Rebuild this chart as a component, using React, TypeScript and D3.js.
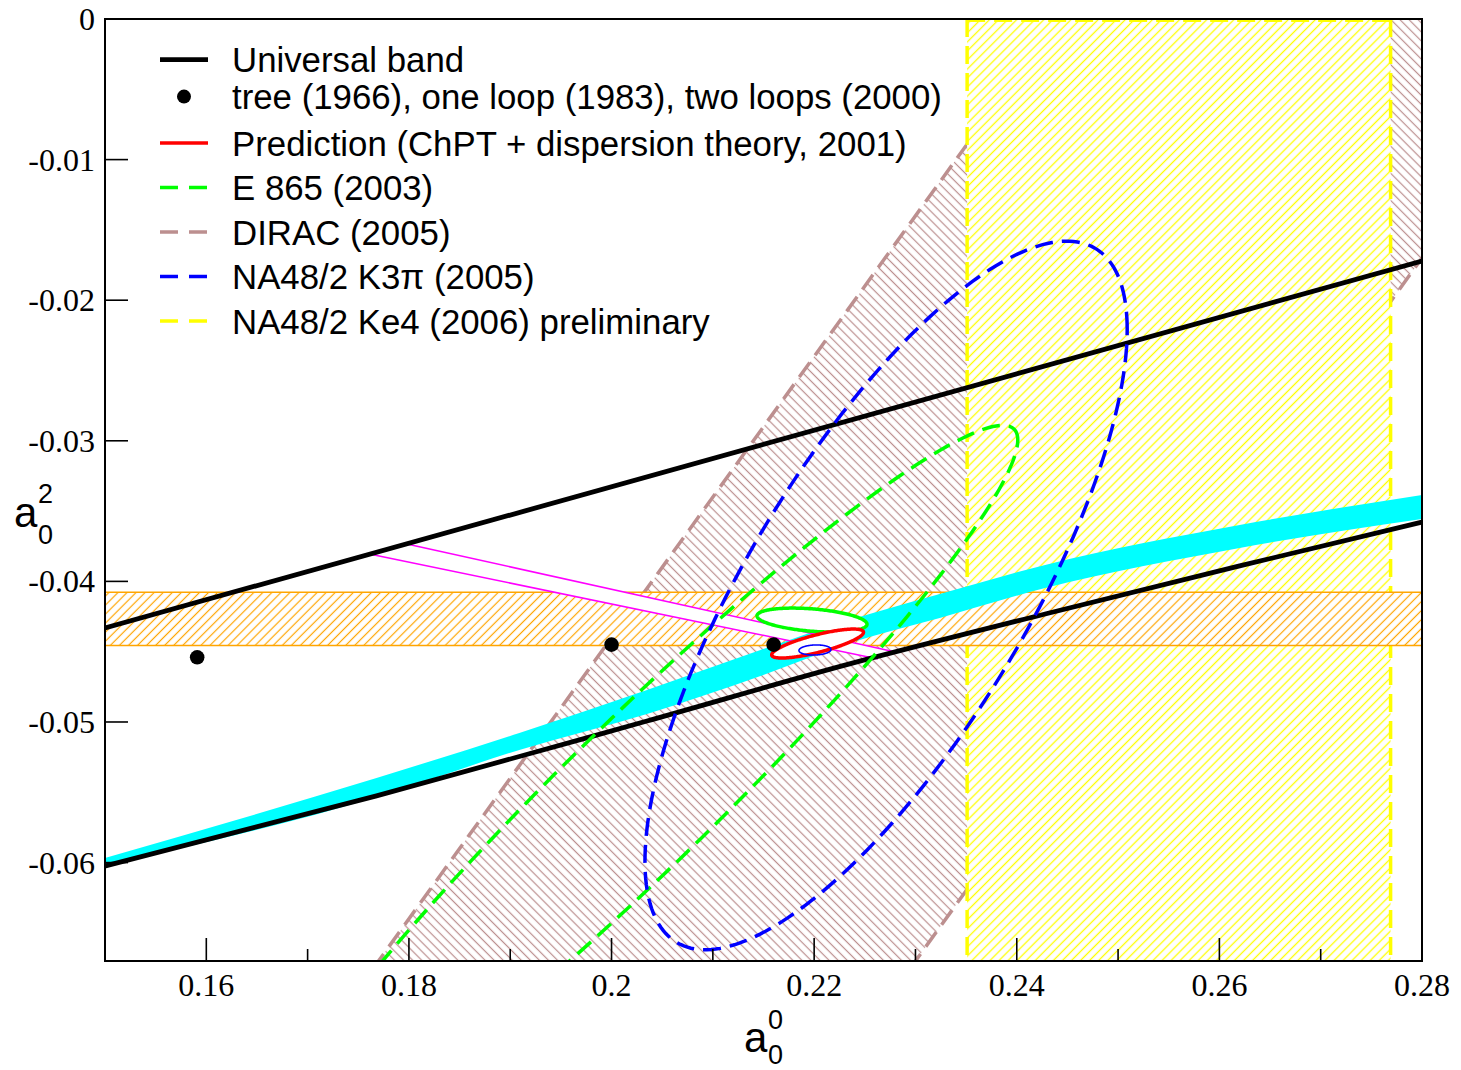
import React from 'react';
import * as d3 from 'd3';

const W = 1461;
const H = 1070;
const PL = 105, PT = 19, PR = 1422, PB = 961;

// axes
const xDomain = [0.15, 0.28];
const yDomain = [-0.067, 0];
const xMajorTicks = [0.16, 0.18, 0.2, 0.22, 0.24, 0.26, 0.28];
const xTickLabels = ['0.16', '0.18', '0.2', '0.22', '0.24', '0.26', '0.28'];
const xMinorTicks = [0.17, 0.19, 0.21, 0.23, 0.25, 0.27];
const yMajorTicks = [0, -0.01, -0.02, -0.03, -0.04, -0.05, -0.06];
const yTickLabels = ['0', '-0.01', '-0.02', '-0.03', '-0.04', '-0.05', '-0.06'];

// Universal band boundaries
const upperA0 = [0.15, 0.28];
const upperA2 = [-0.04331, -0.01721];
const lowerA0 = [0.15, 0.1768, 0.2035, 0.2235, 0.2428, 0.262, 0.28];
const lowerA2 = [-0.06024, -0.05526, -0.04993, -0.04587, -0.04232, -0.0389, -0.03578];

// cyan band
const cyanA0 = [0.15, 0.1768, 0.1909, 0.2035, 0.2147, 0.2235, 0.2324, 0.2428, 0.262, 0.28];
const cyanTop = [-0.05967, -0.05398, -0.05078, -0.04772, -0.04488, -0.04275, -0.0409, -0.03883, -0.03599, -0.03385];
const cyanBottom = [-0.06024, -0.05533, -0.05199, -0.04943, -0.04673, -0.04438, -0.0426, -0.04047, -0.03762, -0.03556];

// tree / one loop / two loops
const dotA0 = [0.1591, 0.2, 0.216];
const dotA2 = [-0.0454, -0.0445, -0.0445];

// DIRAC: a0 - a2 range
const diracRange = [0.244, 0.297];
// Ke4 preliminary: a0 range
const ke4Range = [0.2351, 0.2769];
// orange horizontal band: a2 range
const orangeRange = [-0.04456, -0.04078];

// magenta lines (start/end)
const magStartA0 = [0.1798, 0.1761];
const magStartA2 = [-0.03734, -0.03805];
const magEndA0 = [0.228, 0.2263];
const magEndA2 = [-0.04502, -0.04552];

// ellipses: center a0, center a2, sigma a0, sigma a2, correlation
const ellNames = ['E865', 'K3pi', 'prediction', 'greenSolid', 'blueSmall'];
const ellC0 = [0.203, 0.2271, 0.22034, 0.21979, 0.22008];
const ellC2 = [-0.055, -0.041, -0.04442, -0.04275, -0.04488];
const ellS0 = [0.0371, 0.0238, 0.00453, 0.00543, 0.00158];
const ellS2 = [0.0261, 0.0252, 0.00103, 0.00085, 0.00036];
const ellRho = [0.96, 0.75, 0.78, -0.35, 0.1];

const legendLabels = [
  'Universal band',
  'tree (1966), one loop (1983), two loops (2000)',
  'Prediction (ChPT + dispersion theory, 2001)',
  'E 865 (2003)',
  'DIRAC (2005)',
  'NA48/2 K3\u03c0 (2005)',
  'NA48/2 Ke4 (2006) preliminary',
];

const x = d3.scaleLinear().domain(xDomain).range([PL, PR]);
const y = d3.scaleLinear().domain(yDomain).range([PB, PT]);

function ellipsePath(i: number) {
  const pts: [number, number][] = [];
  const n = 240;
  const r = ellRho[i];
  const q = Math.sqrt(1 - r * r);
  for (let k = 0; k <= n; k++) {
    const t = (k / n) * 2 * Math.PI;
    const a0 = ellC0[i] + ellS0[i] * Math.cos(t);
    const a2 = ellC2[i] + ellS2[i] * (r * Math.cos(t) + q * Math.sin(t));
    pts.push([x(a0), y(a2)]);
  }
  return d3.line()(pts) + 'Z';
}

const lineGen = d3.line<[number, number]>().x((d) => x(d[0])).y((d) => y(d[1])).curve(d3.curveMonotoneX);

export default function App() {
  const upperPath = lineGen(upperA0.map((a, i) => [a, upperA2[i]]));
  const lowerPath = lineGen(lowerA0.map((a, i) => [a, lowerA2[i]]));
  const cyanArea = d3
    .area<number>()
    .x((_, i) => x(cyanA0[i]))
    .y0((_, i) => y(cyanBottom[i]))
    .y1((_, i) => y(cyanTop[i]))
    .curve(d3.curveMonotoneX)(cyanA0);

  // DIRAC polygon (a2 = a0 - c)
  const dLo = diracRange[0], dHi = diracRange[1];
  const a2Lo = -0.08, a2Hi = 0.01;
  const diracPoly: [number, number][] = [
    [a2Lo + dLo, a2Lo],
    [a2Hi + dLo, a2Hi],
    [a2Hi + dHi, a2Hi],
    [a2Lo + dHi, a2Lo],
  ];
  const diracPath = d3.line()(diracPoly.map((p) => [x(p[0]), y(p[1])])) + 'Z';

  const magPoly: [number, number][] = [
    [magStartA0[0], magStartA2[0]],
    [magEndA0[0], magEndA2[0]],
    [magEndA0[1], magEndA2[1]],
    [magStartA0[1], magStartA2[1]],
  ];
  const magPath = d3.line()(magPoly.map((p) => [x(p[0]), y(p[1])])) + 'Z';

  const dash = '18 9';
  const sans = "'Liberation Sans', Arial, Helvetica, sans-serif";
  const serif = "'Liberation Serif', 'Times New Roman', Times, serif";

  const legendBase = [72, 109, 155.5, 200, 244.5, 289, 333.5];

  return (
    <svg width={W} height={H} style={{ position: 'absolute', left: 0, top: 0, background: '#fff' }}>
      <defs>
        <clipPath id="plotClip">
          <rect x={PL} y={PT} width={PR - PL} height={PB - PT} />
        </clipPath>
        <pattern id="hatchDirac" patternUnits="userSpaceOnUse" width={6.4} height={6.4} patternTransform="rotate(-45)">
          <rect width={6.4} height={6.4} fill="#fff" />
          <line x1={3.2} y1={0} x2={3.2} y2={6.4} stroke="#bc8f8f" strokeWidth={1.2} />
        </pattern>
        <pattern id="hatchYellow" patternUnits="userSpaceOnUse" width={6.4} height={6.4} patternTransform="rotate(45)">
          <rect width={6.4} height={6.4} fill="#fff" />
          <line x1={3.2} y1={0} x2={3.2} y2={6.4} stroke="#ffff00" strokeWidth={1.3} />
        </pattern>
        <pattern id="hatchOrange" patternUnits="userSpaceOnUse" width={6.4} height={6.4} patternTransform="rotate(45)">
          <rect width={6.4} height={6.4} fill="#fff" />
          <line x1={3.2} y1={0} x2={3.2} y2={6.4} stroke="#ffa500" strokeWidth={1.2} />
        </pattern>
      </defs>

      <g clipPath="url(#plotClip)">
        {/* DIRAC band */}
        <path d={diracPath} fill="url(#hatchDirac)" />
        <line x1={x(a2Lo + dLo)} y1={y(a2Lo)} x2={x(a2Hi + dLo)} y2={y(a2Hi)} stroke="#bc8f8f" strokeWidth={3.5} strokeDasharray={dash} />
        <line x1={x(a2Lo + dHi)} y1={y(a2Lo)} x2={x(a2Hi + dHi)} y2={y(a2Hi)} stroke="#bc8f8f" strokeWidth={3.5} strokeDasharray={dash} />

        {/* Ke4 vertical band */}
        <rect x={x(ke4Range[0])} y={y(yDomain[1])} width={x(ke4Range[1]) - x(ke4Range[0])} height={y(yDomain[0]) - y(yDomain[1])} fill="url(#hatchYellow)" />
        <line x1={x(ke4Range[0])} y1={PT} x2={x(ke4Range[0])} y2={PB} stroke="#ffff00" strokeWidth={3.5} strokeDasharray={dash} />
        <line x1={x(ke4Range[1])} y1={PT} x2={x(ke4Range[1])} y2={PB} stroke="#ffff00" strokeWidth={3.5} strokeDasharray={dash} />
        <line x1={x(ke4Range[0])} y1={PT + 1.5} x2={x(ke4Range[1])} y2={PT + 1.5} stroke="#ffff00" strokeWidth={3} strokeDasharray={dash} />

        {/* orange horizontal band */}
        <rect x={PL} y={y(orangeRange[1])} width={PR - PL} height={y(orangeRange[0]) - y(orangeRange[1])} fill="url(#hatchOrange)" />
        <line x1={PL} x2={PR} y1={y(orangeRange[1])} y2={y(orangeRange[1])} stroke="#ffa500" strokeWidth={1.5} />
        <line x1={PL} x2={PR} y1={y(orangeRange[0])} y2={y(orangeRange[0])} stroke="#ffa500" strokeWidth={1.5} />

        {/* magenta wedge */}
        <path d={magPath} fill="#fff" />

        {/* cyan band */}
        <path d={cyanArea || ''} fill="#00ffff" />

        {/* magenta lines */}
        {magStartA0.map((a, i) => (
          <line key={i} x1={x(a)} y1={y(magStartA2[i])} x2={x(magEndA0[i])} y2={y(magEndA2[i])} stroke="#ff00ff" strokeWidth={1.6} />
        ))}

        {/* universal band */}
        <path d={upperPath || ''} fill="none" stroke="#000" strokeWidth={4.8} />
        <path d={lowerPath || ''} fill="none" stroke="#000" strokeWidth={4.8} />

        {/* small ellipses */}
        <path d={ellipsePath(3)} fill="#fff" stroke="#00ff00" strokeWidth={3.5} />
        <path d={ellipsePath(2)} fill="#fff" stroke="#ff0000" strokeWidth={3.5} />
        <path d={ellipsePath(4)} fill="none" stroke="#0000ff" strokeWidth={1.6} />

        {/* dashed ellipses */}
        <path d={ellipsePath(0)} fill="none" stroke="#00ff00" strokeWidth={3.5} strokeDasharray={dash} />
        <path d={ellipsePath(1)} fill="none" stroke="#0000ff" strokeWidth={3.5} strokeDasharray={dash} />

        {/* points */}
        {dotA0.map((a, i) => (
          <circle key={i} cx={x(a)} cy={y(dotA2[i])} r={7.3} fill="#000" />
        ))}
      </g>

      {/* frame */}
      <rect x={PL} y={PT} width={PR - PL} height={PB - PT} fill="none" stroke="#000" strokeWidth={2} />

      {/* x ticks */}
      {xMajorTicks.map((t, i) => (
        <g key={'xt' + i}>
          <line x1={x(t)} x2={x(t)} y1={PB} y2={PB - 23} stroke="#000" strokeWidth={1.6} />
          <text x={x(t)} y={996} textAnchor="middle" fontFamily={serif} fontSize={32}>
            {xTickLabels[i]}
          </text>
        </g>
      ))}
      {xMinorTicks.map((t, i) => (
        <line key={'xm' + i} x1={x(t)} x2={x(t)} y1={PB} y2={PB - 12} stroke="#000" strokeWidth={1.6} />
      ))}
      {yMajorTicks.map((t, i) => (
        <g key={'yt' + i}>
          <line x1={PL} x2={PL + 23} y1={y(t)} y2={y(t)} stroke="#000" strokeWidth={1.6} />
          <text x={95} y={y(t) + 11} textAnchor="end" fontFamily={serif} fontSize={32}>
            {yTickLabels[i]}
          </text>
        </g>
      ))}

      {/* axis titles */}
      <g fontFamily={sans}>
        <text x={744} y={1052} fontSize={42}>a</text>
        <text x={768} y={1029} fontSize={27}>0</text>
        <text x={768} y={1064} fontSize={27}>0</text>
        <text x={14} y={527} fontSize={42}>a</text>
        <text x={38} y={503} fontSize={27}>2</text>
        <text x={38} y={544} fontSize={27}>0</text>
      </g>

      {/* legend */}
      <g fontFamily={sans} fontSize={34.8}>
        {legendLabels.map((lab, i) => {
          const by = legendBase[i];
          const sy = by - 12.4;
          let sym: React.ReactNode = null;
          if (i === 0) sym = <line x1={160} x2={208} y1={sy} y2={sy} stroke="#000" strokeWidth={4.8} />;
          else if (i === 1) sym = <circle cx={184} cy={sy} r={7} fill="#000" />;
          else if (i === 2) sym = <line x1={160} x2={208} y1={sy} y2={sy} stroke="#ff0000" strokeWidth={3.5} />;
          else {
            const col = ['#00ff00', '#bc8f8f', '#0000ff', '#ffff00'][i - 3];
            sym = <line x1={160} x2={208} y1={sy} y2={sy} stroke={col} strokeWidth={3.5} strokeDasharray="18 11" />;
          }
          return (
            <g key={'lg' + i}>
              {sym}
              <text x={232} y={by}>{lab}</text>
            </g>
          );
        })}
      </g>
    </svg>
  );
}
